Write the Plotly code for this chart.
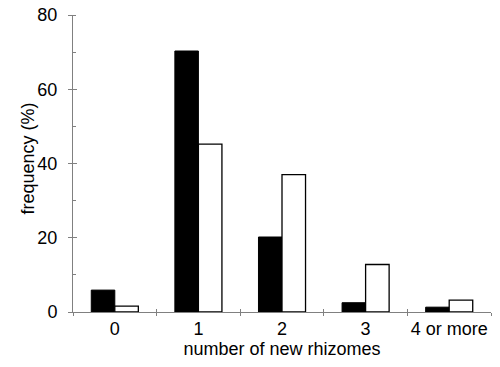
import plotly.graph_objects as go

categories = ["0", "1", "2", "3", "4 or more"]
series_black = [5.9, 70.3, 20.2, 2.5, 1.3]
series_white = [1.6, 45.2, 37.0, 12.8, 3.2]
y_ticks = [0, 20, 40, 60, 80]
y_title = "frequency (%)"
x_title = "number of new rhizomes"

FONT = "Liberation Sans, Arial, sans-serif"
GRAY = "#808080"
FS = 18

W, H = 500, 367
ML, MR, MT, MB = 73, 9, 15, 55
PW = W - ML - MR
PH = H - MT - MB

fig = go.Figure()
fig.add_trace(go.Bar(x=categories, y=series_black, marker=dict(color="black", line=dict(color="black", width=1)),
                     showlegend=False))
fig.add_trace(go.Bar(x=categories, y=series_white, marker=dict(color="white", line=dict(color="black", width=1.3)),
                     showlegend=False))

fig.update_layout(
    width=W, height=H,
    margin=dict(l=ML, r=MR, t=MT, b=MB),
    plot_bgcolor="white", paper_bgcolor="white",
    barmode="group", bargap=0.437, bargroupgap=0,
    font=dict(family=FONT, size=FS, color="black"),
    xaxis=dict(type="category", range=[-0.5, 4.5], tickson="boundaries", ticks="outside", ticklen=3,
               tickcolor=GRAY, showline=True, linecolor=GRAY, linewidth=1, showgrid=False, zeroline=False,
               automargin=False, tickangle=0, tickfont=dict(size=FS), ticklabeloverflow="allow",
               title=dict(text=x_title, font=dict(size=FS), standoff=0)),
    xaxis2=dict(overlaying="x", range=[-0.5, 4.5], tickmode="array", tickvals=[-0.5, 0.5, 1.5, 2.5, 3.5, 4.5],
                ticks="inside", ticklen=3, tickcolor=GRAY, showticklabels=False, showgrid=False, zeroline=False,
                showline=False, automargin=False),
    yaxis=dict(range=[0, 80], tickmode="array", tickvals=y_ticks, ticks="outside", ticklen=4, tickcolor=GRAY,
               showline=True, linecolor=GRAY, linewidth=1, showgrid=False, zeroline=False,
               minor=dict(dtick=10, ticks="inside", ticklen=3, tickcolor=GRAY),
               automargin=False, tickfont=dict(size=FS), ticklabelstandoff=7, ticklabeloverflow="allow"),
    yaxis2=dict(overlaying="y", range=[0, 80], tickmode="array", tickvals=y_ticks, ticks="inside", ticklen=4,
                tickcolor=GRAY, showticklabels=False, showgrid=False, zeroline=False, showline=False,
                automargin=False),
    annotations=[dict(text=y_title, textangle=-90, xref="paper", yref="paper",
                      x=(27 - ML) / PW, y=(H - MB - 158.5) / PH, xanchor="center", yanchor="middle",
                      showarrow=False, font=dict(size=FS))],
)
fig.add_trace(go.Scatter(x=[None], y=[None], xaxis="x2", yaxis="y2", showlegend=False, hoverinfo="skip"))

fig.write_html("out.html", config={"displayModeBar": False},
               post_script="document.body.style.margin='0';")
